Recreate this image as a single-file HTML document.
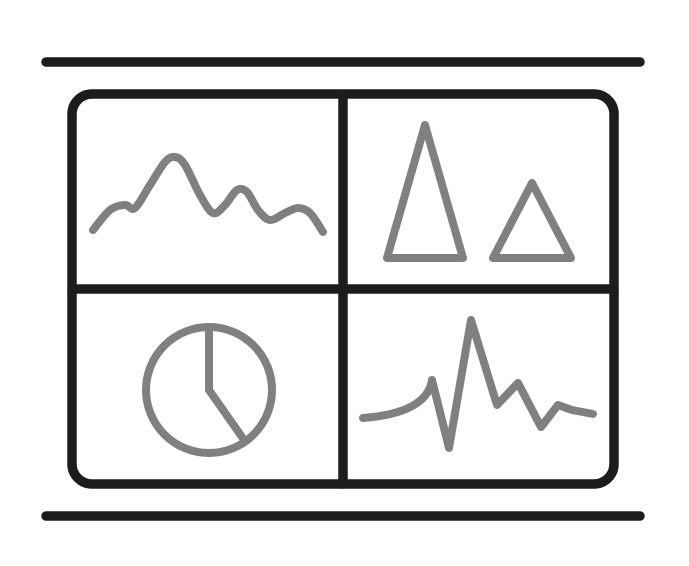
<!DOCTYPE html>
<html><head><meta charset="utf-8"><style>html,body{margin:0;padding:0;background:#fff}svg{display:block}</style></head>
<body>
<svg id="icon" width="689" height="566" viewBox="0 0 689 566" xmlns="http://www.w3.org/2000/svg">
<g stroke="#1c1c1c" stroke-width="9.5" stroke-linecap="round" fill="none">
<line x1="46" y1="62" x2="640" y2="62"/>
<line x1="46" y1="516" x2="640" y2="516"/>
<rect x="72" y="94" width="542" height="390" rx="20"/>
<line x1="343" y1="94" x2="343" y2="484"/>
<line x1="72" y1="289" x2="614" y2="289"/>
</g>
<g stroke="#808080" stroke-width="8" stroke-linecap="round" stroke-linejoin="round" fill="none">
<path id="wave"/>
<polygon points="425,125 387,258 463,258"/>
<polygon points="532,183 493,258 571,258"/>
<circle cx="209" cy="390" r="63"/>
<polyline points="209,327 209,390 242,437"/>
<path id="spike"/>
</g>
</svg>
<script>
const waveX=[93,110,125,135,150,165,175,185,200,213,225,237,247,258,270,285,298,310,323];
const waveY=[230,210,205,208,185,162,157,165,195,213,205,190,192,210,220,213,208,213,232];
const spikeX=[363,432,437,449,471,497,518,541,558,572,593];
const spikeY=[418,380,400,448,320,405,383,427,405,410,414];
let d='M'+waveX[0]+','+waveY[0];
for(let i=0;i<waveX.length-1;i++){
 const p0=[waveX[Math.max(i-1,0)],waveY[Math.max(i-1,0)]],p1=[waveX[i],waveY[i]],p2=[waveX[i+1],waveY[i+1]],p3=[waveX[Math.min(i+2,waveX.length-1)],waveY[Math.min(i+2,waveX.length-1)]];
 d+=' C'+(p1[0]+(p2[0]-p0[0])/6)+','+(p1[1]+(p2[1]-p0[1])/6)+' '+(p2[0]-(p3[0]-p1[0])/6)+','+(p2[1]-(p3[1]-p1[1])/6)+' '+p2[0]+','+p2[1];
}
document.getElementById('wave').setAttribute('d',d);
let s='M'+spikeX[0]+','+spikeY[0]+' Q'+(spikeX[1]-5)+','+(spikeY[0]-5)+' '+spikeX[1]+','+spikeY[1];
for(let i=2;i<spikeX.length;i++) s+=' L'+spikeX[i]+','+spikeY[i];
document.getElementById('spike').setAttribute('d',s);
</script>
</body></html>
